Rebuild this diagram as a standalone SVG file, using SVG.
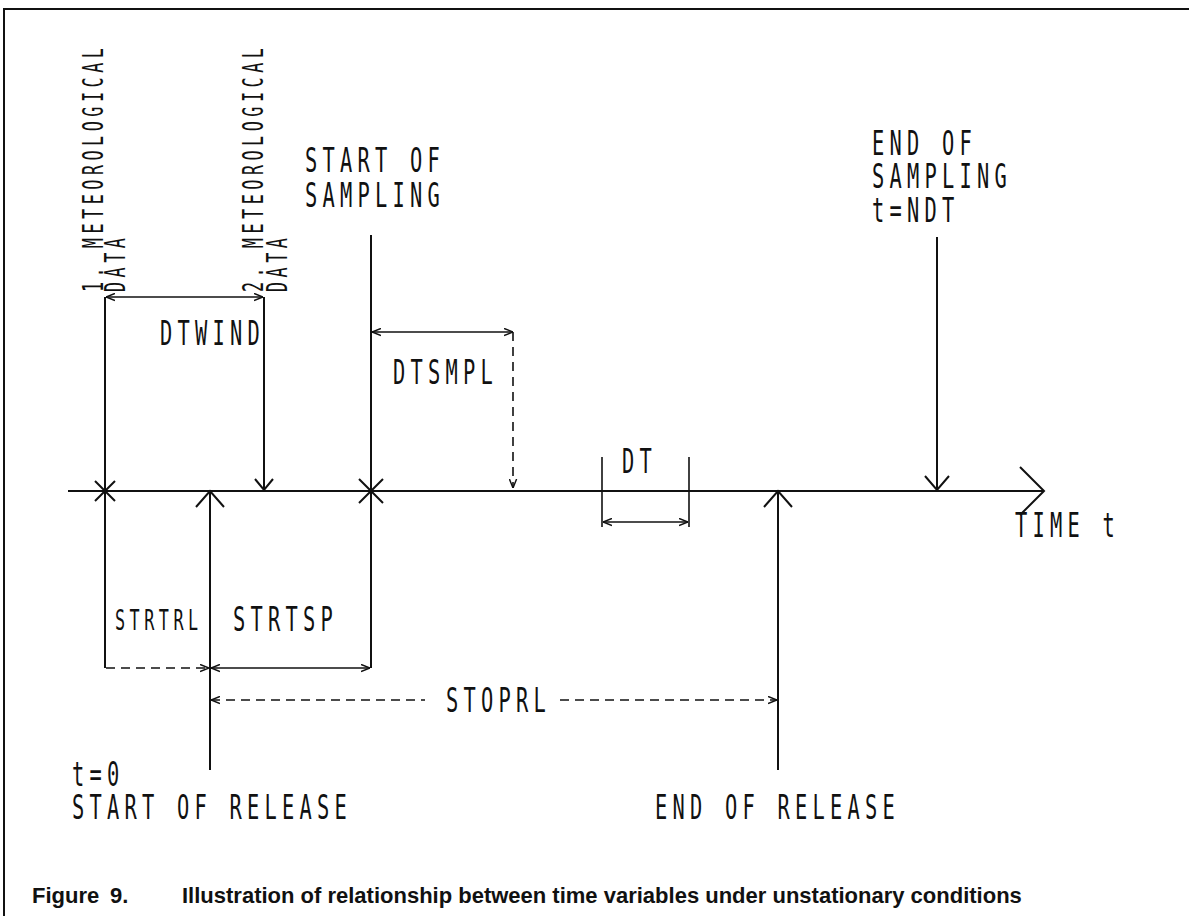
<svg xmlns="http://www.w3.org/2000/svg" width="1189" height="916" viewBox="0 0 1189 916">
<style>
.ln{stroke:#111;stroke-width:2;fill:none}
.th{stroke:#111;stroke-width:1.6;fill:none}
.dl{stroke:#111;stroke-width:1.6;fill:none;stroke-dasharray:9 6}
.big{font-family:"DejaVu Sans Mono","Liberation Mono",monospace;font-size:34px;letter-spacing:8.7px;fill:#111}
.sm{font-family:"DejaVu Sans Mono","Liberation Mono",monospace;font-size:28px;letter-spacing:7.5px;fill:#111}
.cap{font-family:"Liberation Sans",Arial,sans-serif;font-weight:bold;font-size:22px;fill:#111}
</style>
<defs>
<marker id="ah" viewBox="0 0 10 10" refX="10" refY="5" markerWidth="9" markerHeight="9" orient="auto-start-reverse" markerUnits="userSpaceOnUse">
<path d="M0,1 L10,5 L0,9" fill="none" stroke="#111" stroke-width="1.6"/>
</marker>
</defs>
<rect width="1189" height="916" fill="#fff"/>
<path class="ln" d="M3,9 H1189 M4,9 V916"/>

<g id="axis">
<line class="ln" x1="68" y1="491" x2="1043" y2="491"/>
<path class="ln" d="M1020,467 L1044,491 L1020,515"/>
<g transform="translate(1015,537) scale(0.6,1)"><text class="big">TIME t</text></g>
</g>

<g id="met1">
<g transform="translate(103,292) rotate(-90) scale(0.6,1)"><text class="sm"><tspan x="0" y="0">1. METEOROLOGICAL</tspan><tspan x="0" y="22">DATA</tspan></text></g>
<line class="ln" x1="105" y1="297" x2="105" y2="668"/>
<path class="ln" d="M95,481 L115,501 M115,481 L95,501"/>
</g>

<g id="met2">
<g transform="translate(263,292) rotate(-90) scale(0.6,1)"><text class="sm"><tspan x="0" y="0">2. METEOROLOGICAL</tspan><tspan x="0" y="24">DATA</tspan></text></g>
<line class="ln" x1="264" y1="297" x2="264" y2="490"/>
<path class="ln" d="M255,479 L264,490 L273,479"/>
</g>

<g id="start-sampling">
<g transform="translate(305,172) scale(0.6,1)"><text class="big"><tspan x="0" y="0">START OF</tspan><tspan x="0" y="35">SAMPLING</tspan></text></g>
<line class="ln" x1="371" y1="235" x2="371" y2="668"/>
<path class="ln" d="M359,479 L383,503 M383,479 L359,503"/>
</g>

<g id="end-sampling">
<g transform="translate(872,155) scale(0.6,1)"><text class="big"><tspan x="0" y="0">END OF</tspan><tspan x="0" y="33">SAMPLING</tspan><tspan x="0" y="67">t=NDT</tspan></text></g>
<line class="ln" x1="937" y1="237" x2="937" y2="490"/>
<path class="ln" d="M925,476 L937,490 L949,476"/>
</g>

<g id="start-release">
<line class="ln" x1="210" y1="492" x2="210" y2="770"/>
<path class="ln" d="M196,507 L210,491 L224,507"/>
<g transform="translate(72,786) scale(0.6,1)"><text class="big"><tspan x="0" y="0">t=0</tspan><tspan x="0" y="33">START OF RELEASE</tspan></text></g>
</g>

<g id="end-release">
<line class="ln" x1="778" y1="492" x2="778" y2="770"/>
<path class="ln" d="M764,507 L778,491 L792,507"/>
<g transform="translate(655,819) scale(0.6,1)"><text class="big">END OF RELEASE</text></g>
</g>

<g id="dt">
<line class="th" x1="602" y1="457" x2="602" y2="527"/>
<line class="th" x1="689" y1="457" x2="689" y2="527"/>
<g transform="translate(622,473) scale(0.6,1)"><text class="big">DT</text></g>
</g>

<g id="labels">
<g transform="translate(160,345) scale(0.6,1)"><text class="big">DTWIND</text></g>
<g transform="translate(393,384) scale(0.6,1)"><text class="big">DTSMPL</text></g>
<g transform="translate(115,630) scale(0.6,1)"><text class="sm">STRTRL</text></g>
<g transform="translate(233,631) scale(0.6,1)"><text class="big">STRTSP</text></g>
<g transform="translate(446,712) scale(0.6,1)"><text class="big">STOPRL</text></g>
</g>

<g id="connectors">
<line class="th" x1="106" y1="297" x2="263" y2="297" marker-start="url(#ah)" marker-end="url(#ah)"/>
<line class="th" x1="372" y1="332" x2="513" y2="332" marker-start="url(#ah)" marker-end="url(#ah)"/>
<line class="dl" x1="513" y1="332" x2="513" y2="488" marker-end="url(#ah)"/>
<line class="th" x1="603" y1="522" x2="688" y2="522" marker-start="url(#ah)" marker-end="url(#ah)"/>
<line class="dl" x1="106" y1="668" x2="209" y2="668" marker-end="url(#ah)"/>
<line class="th" x1="211" y1="668" x2="370" y2="668" marker-start="url(#ah)" marker-end="url(#ah)"/>
<line class="dl" x1="211" y1="700" x2="425" y2="700" marker-start="url(#ah)"/>
<line class="dl" x1="560" y1="700" x2="777" y2="700" marker-end="url(#ah)"/>
</g>

<g id="caption">
<text class="cap" y="903"><tspan x="32">Figure</tspan><tspan x="110">9.</tspan><tspan x="182">Illustration of relationship between time variables under unstationary conditions</tspan></text>
</g>
</svg>
